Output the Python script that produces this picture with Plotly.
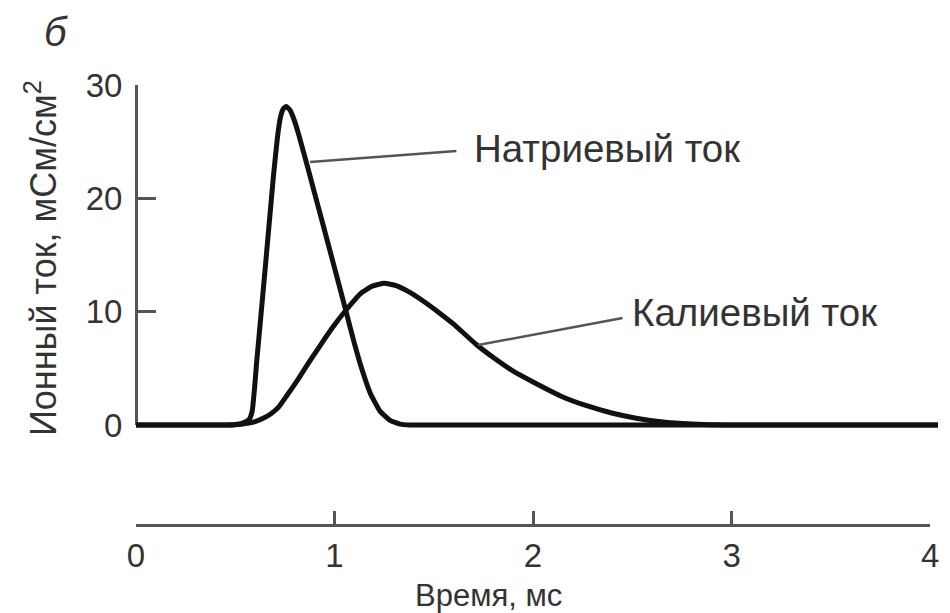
import plotly.graph_objects as go

# ---- data (time in ms, current in mS/cm^2) ----
na_t = [0, 0.45, 0.50, 0.54, 0.57, 0.585, 0.597, 0.607, 0.618, 0.643, 0.667, 0.692,
        0.712, 0.727, 0.742, 0.757, 0.775, 0.795, 0.82, 0.867, 0.931, 1.001, 1.056,
        1.10, 1.14, 1.18, 1.23, 1.28, 1.33, 1.38, 4.04]
na_i = [0, 0, 0.04, 0.2, 0.5, 1.2, 3.2, 5.4, 7.5, 12.3, 17.0, 21.9,
        25.3, 27.1, 27.9, 28.1, 27.8, 27.0, 25.6, 22.6, 18.4, 13.8, 10.15,
        7.2, 4.8, 2.8, 1.2, 0.4, 0.08, 0, 0]

k_t = [0, 0.45, 0.50, 0.568, 0.60, 0.643, 0.68, 0.717, 0.76, 0.817, 0.87, 0.931, 0.99, 1.056,
       1.131, 1.19, 1.25, 1.31, 1.38, 1.45, 1.52, 1.60, 1.714, 1.80, 1.90, 2.00,
       2.147, 2.27, 2.396, 2.52, 2.645, 2.80, 2.97, 4.04]
k_i = [0, 0, 0.02, 0.18, 0.3, 0.62, 1.0, 1.55, 2.6, 4.05, 5.5, 7.1, 8.6, 10.1,
       11.6, 12.25, 12.5, 12.3, 11.7, 10.9, 10.0, 8.9, 7.1, 5.95, 4.75, 3.8,
       2.5, 1.7, 1.06, 0.6, 0.28, 0.08, 0, 0]

x_ticks = [0, 1, 2, 3, 4]
y_ticks = [0, 10, 20, 30]

label_na = "Натриевый ток"
label_k = "Калиевый ток"
x_title = "Время, мс"
y_title = "Ионный ток, мСм/см<sup>2</sup>"
panel = "б"

FONT = "Liberation Sans, Arial, sans-serif"
TXT = "#333333"
AX = "#555555"

W, H = 950, 613
L, R, T, B = 136, 3, 85, 88
pw = W - L - R
ph = H - T - B
px_per_x = 200.75
px_per_y = 340 / 30.0
zero_px_from_bottom = 100  # y=0 sits 100 px above the bottom of the plot area

fig = go.Figure()
# anchor trace so the visible display axes (x / y) get drawn
fig.add_trace(go.Scatter(x=[0], y=[0], mode="lines", xaxis="x", yaxis="y",
                         hoverinfo="skip", showlegend=False, line=dict(width=0)))
for t, i in [(na_t, na_i), (k_t, k_i)]:
    fig.add_trace(go.Scatter(x=t, y=i, mode="lines", xaxis="x2", yaxis="y2",
                             line=dict(color="#111111", width=5, shape="spline", smoothing=0.4),
                             hoverinfo="skip", showlegend=False))

def px(xp, yp):
    return (xp - L) / pw, (H - B - yp) / ph

shapes = []
for (x0, y0, x1, y1) in [(312, 162, 460, 151), (482, 345, 628, 318)]:
    a = px(x0, y0); b = px(x1, y1)
    shapes.append(dict(type="line", xref="paper", yref="paper", x0=a[0], y0=a[1], x1=b[0], y1=b[1],
                       line=dict(color=AX, width=2.5)))

annots = []
p = px(476, 148)
annots.append(dict(text=label_na, xref="paper", yref="paper", x=p[0], y=p[1], xanchor="left",
                   yanchor="middle", showarrow=False, font=dict(size=38.5, color=TXT, family=FONT)))
p = px(636, 312)
annots.append(dict(text=label_k, xref="paper", yref="paper", x=p[0], y=p[1], xanchor="left",
                   yanchor="middle", showarrow=False, font=dict(size=38.5, color=TXT, family=FONT)))
p = px(492, 595)
annots.append(dict(text=x_title, xref="paper", yref="paper", x=p[0], y=p[1], xanchor="center",
                   yanchor="middle", showarrow=False, font=dict(size=31, color=TXT, family=FONT)))
p = px(40, 258)
annots.append(dict(text=y_title, xref="paper", yref="paper", x=p[0], y=p[1], xanchor="center",
                   yanchor="middle", textangle=-90, showarrow=False,
                   font=dict(size=36, color=TXT, family=FONT)))
p = px(55, 32)
annots.append(dict(text="<i>" + panel + "</i>", xref="paper", yref="paper", x=p[0], y=p[1],
                   xanchor="center", yanchor="middle", showarrow=False,
                   font=dict(size=40, color=TXT, family=FONT)))

x_dom_end = (4 * px_per_x) / pw
y_dom_start = zero_px_from_bottom / ph

fig.update_layout(
    width=W, height=H,
    margin=dict(l=L, r=R, t=T, b=B, pad=0),
    paper_bgcolor="white", plot_bgcolor="rgba(0,0,0,0)",
    font=dict(family=FONT, color=TXT),
    shapes=shapes, annotations=annots,
    xaxis=dict(domain=[0, x_dom_end], range=[0, 4], tickvals=x_ticks, ticktext=[str(v) for v in x_ticks],
               showgrid=False, zeroline=False, showline=True, linecolor=AX, linewidth=3,
               ticks="inside", ticklen=13, tickwidth=2.5, tickcolor=AX,
               tickfont=dict(size=33, color=TXT, family=FONT), ticklabelstandoff=0,
               anchor="free", position=0, fixedrange=True),
    yaxis=dict(domain=[y_dom_start, 1], range=[0, 30], tickvals=y_ticks, ticktext=[str(v) for v in y_ticks],
               showgrid=False, zeroline=False, showline=True, linecolor=AX, linewidth=3,
               ticks="inside", ticklen=18, tickwidth=2.5, tickcolor=AX,
               tickfont=dict(size=33, color=TXT, family=FONT), ticklabelstandoff=6,
               anchor="free", position=0, fixedrange=True),
    xaxis2=dict(domain=[0, 1], range=[0, pw / px_per_x], visible=False, anchor="y2", fixedrange=True),
    yaxis2=dict(domain=[0, 1], range=[-zero_px_from_bottom / px_per_y, (ph - zero_px_from_bottom) / px_per_y],
                visible=False, anchor="x2", fixedrange=True),
)

fig.write_html("out.html", config={"displayModeBar": False},
               post_script="document.body.style.margin='0';")
